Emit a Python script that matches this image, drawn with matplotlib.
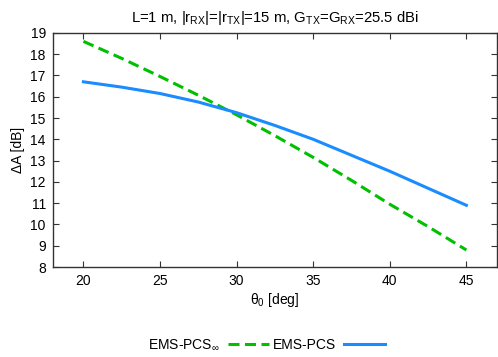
import matplotlib
matplotlib.use("Agg")
import matplotlib.pyplot as plt

theta = [20, 22.5, 25, 27.5, 30, 32.5, 35, 37.5, 40, 42.5, 45]
ems_pcs_inf = [18.6, 17.8, 16.95, 16.07, 15.15, 14.17, 13.15, 12.07, 10.95, 9.9, 8.8]
ems_pcs = [16.7, 16.45, 16.15, 15.75, 15.25, 14.65, 14.0, 13.25, 12.5, 11.7, 10.9]
xticks = [20, 25, 30, 35, 40, 45]
yticks = list(range(8, 20))

plt.rcParams['font.family'] = ['Liberation Sans', 'DejaVu Sans']
plt.rcParams['mathtext.fontset'] = 'custom'
plt.rcParams['mathtext.rm'] = 'Liberation Sans'
plt.rcParams['mathtext.it'] = 'Liberation Sans'
plt.rcParams['mathtext.default'] = 'regular'

fig = plt.figure(figsize=(4.98, 3.57), dpi=100)
ax = fig.add_axes([0.106, 0.252, 0.892, 0.656])

ax.plot(theta, ems_pcs_inf, color='#00c000', lw=2.2, dashes=(3.6, 1.8),
        label='EMS-PCS$_{∞}$')
ax.plot(theta, ems_pcs, color='#1a8cff', lw=2.2, label='EMS-PCS')

ax.set_xlim(18, 47)
ax.set_ylim(8, 19)
ax.set_xticks(xticks)
ax.set_yticks(yticks)
ax.tick_params(direction='in', length=4, width=0.8, top=True, right=True,
               labelsize=10, color='#333333', pad=5)
for s in ax.spines.values():
    s.set_color('#333333')
    s.set_linewidth(1.0)

ax.set_xlabel('θ$_0$ [deg]', fontsize=10, labelpad=2)
ax.set_ylabel('ΔA [dB]', fontsize=10, labelpad=4)
ax.set_title('L=1 m, |r$_{RX}$|=|r$_{TX}$|=15 m, G$_{TX}$=G$_{RX}$=25.5 dBi',
             fontsize=10.7, pad=8)

fig.legend(loc='center', bbox_to_anchor=(0.535, 0.033), ncol=2, frameon=False,
           markerfirst=False, fontsize=10, handlelength=2.9, columnspacing=0.3,
           handletextpad=0.6)

fig.savefig('out.png', dpi=100)
